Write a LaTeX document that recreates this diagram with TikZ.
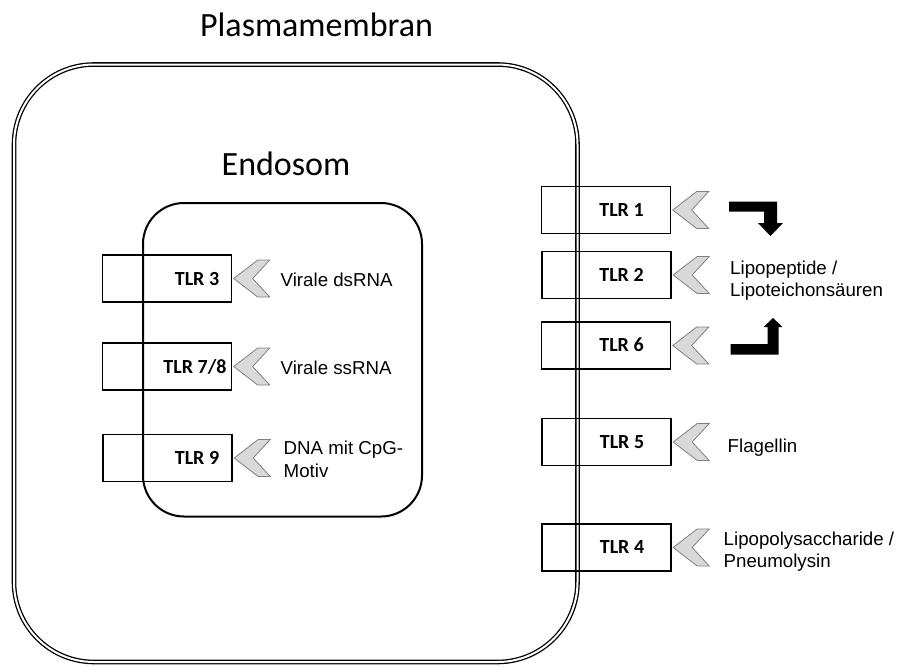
\documentclass[tikz,border=0pt]{standalone}
\usepackage{fontspec}
\setmainfont{Liberation Sans}
\newfontfamily\calfont{Carlito}
\definecolor{chevfill}{HTML}{D9D9D9}
\definecolor{chevline}{HTML}{808080}
\begin{document}
\begin{tikzpicture}[x=1pt,y=-1pt,
  membrane/.style={draw=black, double=white, double distance=2pt, line width=1.3pt, rounded corners=80pt},
  endo/.style={draw=black, line width=2pt, rounded corners=41pt},
  tlrbox/.style={draw=black, line width=1.4pt, minimum width=129pt, minimum height=47pt, inner sep=0pt},
  tlrlabel/.style={font=\calfont\bfseries\fontsize{20}{24}\selectfont, inner sep=0pt, anchor=base},
  ligand/.style={font=\fontsize{18.7}{22.5}\selectfont, inner sep=0pt, anchor=base west, align=left},
  titletext/.style={font=\calfont\fontsize{34}{40}\selectfont, inner sep=0pt, anchor=base},
  chevstyle/.style={fill=chevfill, draw=chevline, line width=0.8pt, line join=miter},
  bentarrow/.style={fill=black, draw=none},
  chevron/.pic={\path[chevstyle] (0,0) -- (24,-18.5) -- (36,-18.5) -- (19,0) -- (36,18.5) -- (24,18.5) -- cycle;}
]
\useasboundingbox (0,0) rectangle (897,665);

% titles
\node[titletext] (pmtitle) at (316.5,36) {Plasmamembran};
\node[titletext] (endotitle) at (286,175) {Endosom};

% membranes
\draw[membrane] (14,64.5) rectangle (577.5,662);
\draw[endo] (143,203) rectangle (422,516.5);

% endosomal TLRs
\node[tlrbox] (tlr3) at (167,278.5) {};
\node[tlrbox] (tlr78) at (167,366.5) {};
\node[tlrbox] (tlr9) at (167.5,458) {};
\node[tlrlabel] (l3) at (197,285.3) {TLR 3};
\node[tlrlabel] (l78) at (195,373.3) {TLR 7/8};
\node[tlrlabel] (l9) at (197,464.8) {TLR 9};
\pic (c3) at ([xshift=1.5pt]tlr3.east) {chevron};
\pic (c78) at ([xshift=1.5pt]tlr78.east) {chevron};
\pic (c9) at ([xshift=1.5pt]tlr9.east) {chevron};
\node[ligand] (t3) at (280.5,286.7) {Virale dsRNA};
\node[ligand] (t78) at (280.5,374.7) {Virale ssRNA};
\node[ligand] (t9) at (283.5,477.3) {DNA mit CpG-\\Motiv};

% surface TLRs
\node[tlrbox] (tlr1) at (606,210) {};
\node[tlrbox] (tlr2) at (606.5,275) {};
\node[tlrbox] (tlr6) at (606,345.5) {};
\node[tlrbox] (tlr5) at (606.5,442) {};
\node[tlrbox] (tlr4) at (606.5,547.5) {};
\node[tlrlabel] (l1) at (621.5,216.3) {TLR 1};
\node[tlrlabel] (l2) at (621.5,281.3) {TLR 2};
\node[tlrlabel] (l6) at (621.5,351.8) {TLR 6};
\node[tlrlabel] (l5) at (622,448.3) {TLR 5};
\node[tlrlabel] (l4) at (622,553.8) {TLR 4};
\pic (c1) at ([xshift=1.5pt]tlr1.east) {chevron};
\pic (c2) at ([xshift=1.5pt]tlr2.east) {chevron};
\pic (c6) at ([xshift=1.5pt]tlr6.east) {chevron};
\pic (c5) at ([xshift=1.5pt]tlr5.east) {chevron};
\pic (c4) at ([xshift=1.5pt]tlr4.east) {chevron};
\node[ligand] (t2) at (730,296.7) {Lipopeptide /\\Lipoteichonsäuren};
\node[ligand] (t5) at (727.5,452.7) {Flagellin};
\node[ligand] (t4) at (723.5,567.7) {Lipopolysaccharide /\\Pneumolysin};

% bent arrows
\fill[bentarrow] (729,201.5) -- (777,201.5) -- (777,223) -- (783,223) -- (770.5,236) -- (758,223) -- (764,223) -- (764,211.5) -- (729,211.5) -- cycle;
\fill[bentarrow] (730.7,354.5) -- (778.5,354.5) -- (778.5,327) -- (782.5,327) -- (773,318) -- (763.5,327) -- (767.5,327) -- (767.5,344) -- (730.7,344) -- cycle;
\end{tikzpicture}
\end{document}
